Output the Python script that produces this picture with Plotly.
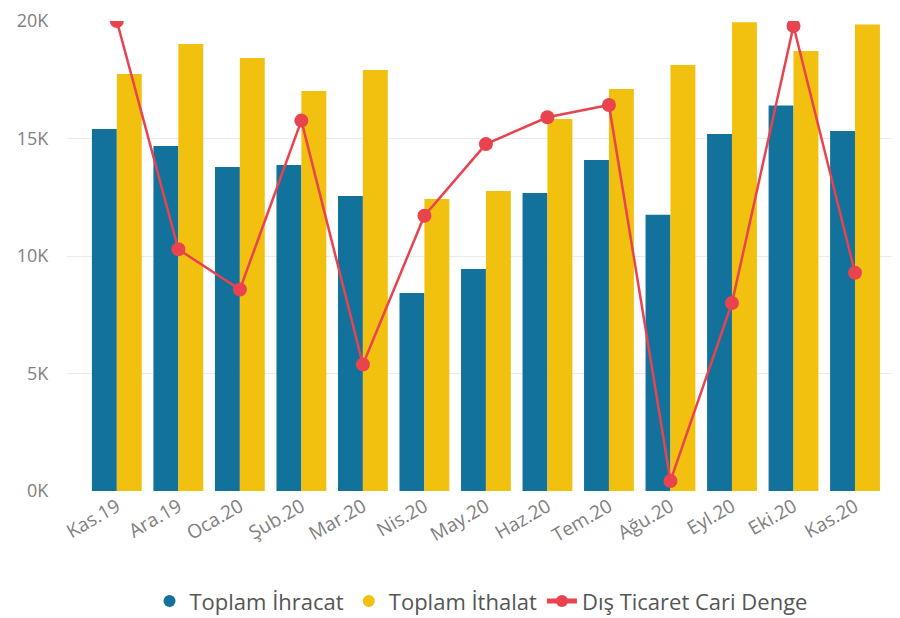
import plotly.graph_objects as go

months = ["Kas.19", "Ara.19", "Oca.20", "Şub.20", "Mar.20", "Nis.20", "May.20",
          "Haz.20", "Tem.20", "Ağu.20", "Eyl.20", "Eki.20", "Kas.20"]
ihracat = [15400, 14680, 13790, 13870, 12550, 8430, 9450, 12680, 14090, 11760, 15190, 16400, 15320]
ithalat = [17740, 19020, 18430, 17020, 17910, 12430, 12770, 15830, 17110, 18130, 19950, 18720, 19850]
denge = [-2300, -4340, -4700, -3190, -5370, -4040, -3400, -3160, -3050, -6410, -4820, -2345, -4550]

y_ticks = [0, 5000, 10000, 15000, 20000]
y_tick_text = ["0K", "5K", "10K", "15K", "20K"]

BLUE = "#13729C"
YELLOW = "#F2C00E"
RED = "#E8434F"
FONT = "Open Sans, DejaVu Sans, sans-serif"

fig = go.Figure()
fig.add_trace(go.Bar(x=months, y=ihracat, name="Toplam İhracat", marker_color=BLUE,
                     marker_line_width=0, showlegend=False))
fig.add_trace(go.Bar(x=months, y=ithalat, name="Toplam İthalat", marker_color=YELLOW,
                     marker_line_width=0, showlegend=False))
# legend-only entries with circle symbols (as in the reference legend)
fig.add_trace(go.Scatter(x=[None], y=[None], name="Toplam İhracat", mode="markers",
                         marker=dict(color=BLUE, size=17, symbol="circle")))
fig.add_trace(go.Scatter(x=[None], y=[None], name="Toplam İthalat", mode="markers",
                         marker=dict(color=YELLOW, size=17, symbol="circle")))
fig.add_trace(go.Scatter(x=months, y=denge, name="Dış Ticaret Cari Denge", yaxis="y2",
                         mode="lines+markers", line=dict(color=RED, width=2.5),
                         marker=dict(color=RED, size=14), cliponaxis=True))

fig.update_layout(
    width=892, height=610,
    margin=dict(l=59, r=5, t=13, b=127, autoexpand=False),
    plot_bgcolor="white", paper_bgcolor="white",
    barmode="group", bargap=0.19, bargroupgap=0,
    font=dict(family=FONT, color="#777777", size=14),
    xaxis=dict(range=[-0.81, 12.65], tickangle=-30, showgrid=False, showline=False,
               ticks="", tickfont=dict(size=19, color="#808080"), automargin=False),
    yaxis=dict(range=[0, 20000], tickvals=y_ticks, ticktext=y_tick_text,
               showgrid=True, gridcolor="#EBEBEB", gridwidth=1, zeroline=False,
               showline=False, ticks="outside", ticklen=14, tickcolor="rgba(0,0,0,0)",
               tickfont=dict(size=18, color="#808080"), automargin=False,
               ticklabeloverflow="allow"),
    yaxis2=dict(overlaying="y", side="right", range=[-6500, -2300], showgrid=False,
                showticklabels=False, zeroline=False, showline=False, ticks=""),
    legend=dict(orientation="h", x=0.5, xanchor="center", y=-0.19, yanchor="top",
                font=dict(size=22, color="#555555"), itemsizing="constant",
                traceorder="normal", itemwidth=30, tracegroupgap=0),
)

fig.write_html("out.html")
